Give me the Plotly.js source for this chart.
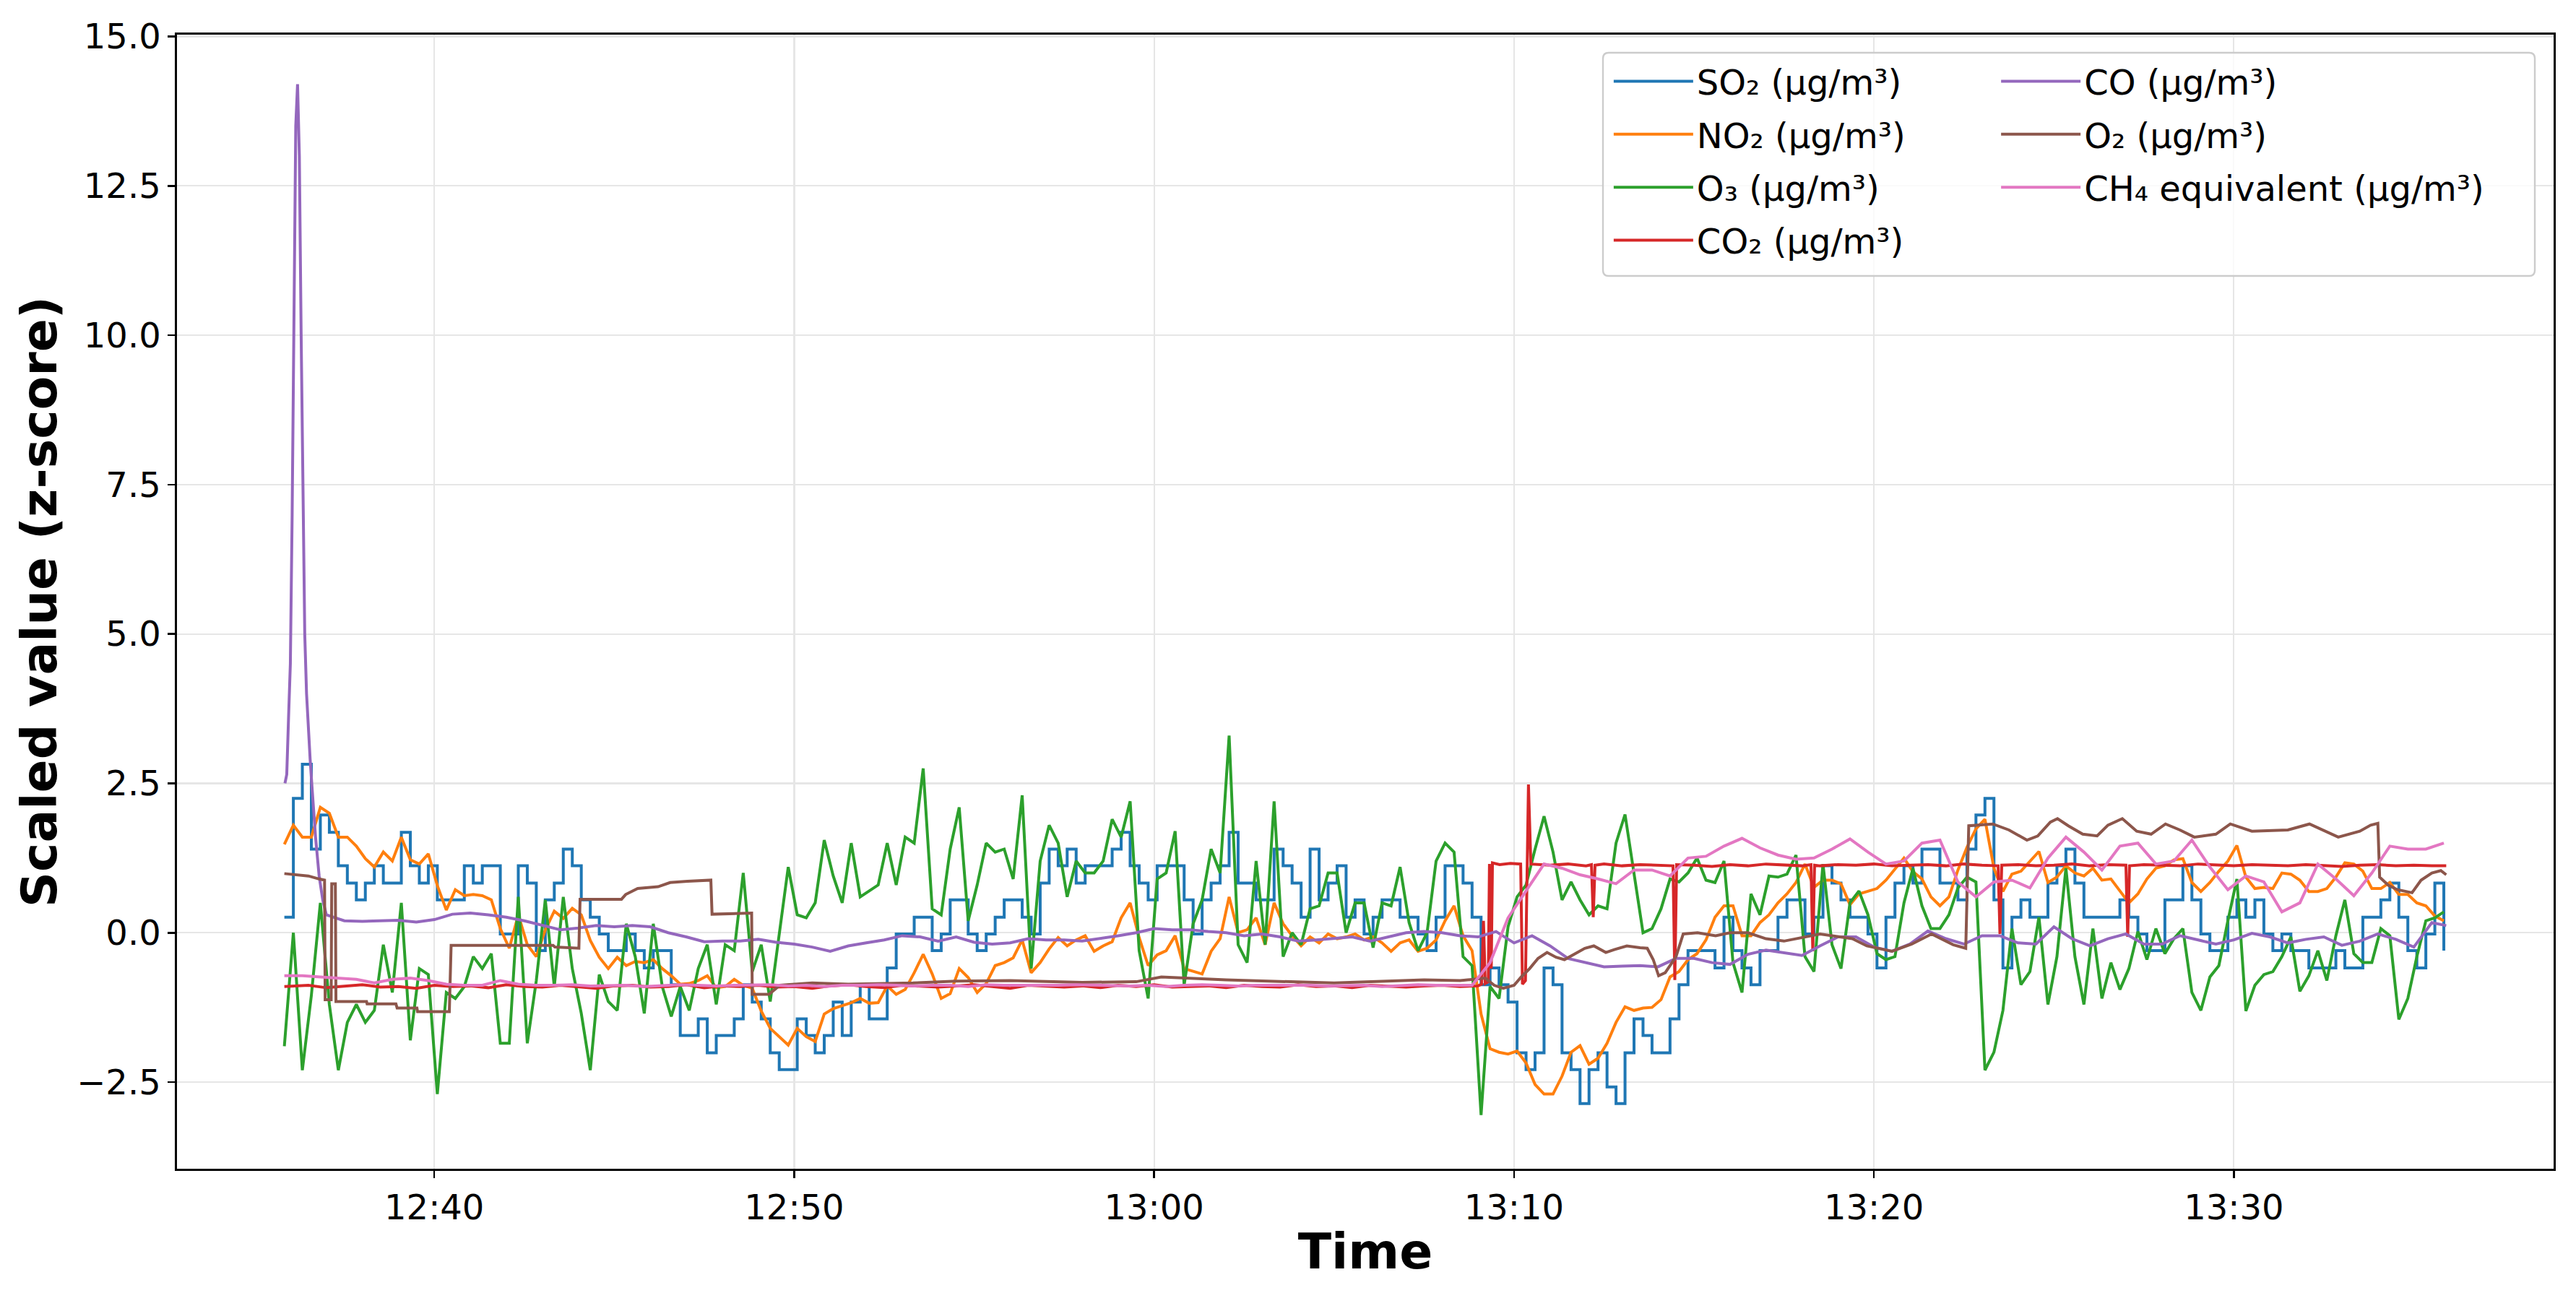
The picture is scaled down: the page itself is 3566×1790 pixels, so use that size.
<!DOCTYPE html>
<html>
<head>
<meta charset="utf-8">
<script src="https://cdn.plot.ly/plotly-3.0.1.min.js"></script>
<style>
  html, body { margin: 0; padding: 0; background: #fff; }
  #chart { width: 3566px; height: 1790px; }
</style>
</head>
<body>
<div id="chart"></div>
<script>
// z-scored sensor readings, 15 s samples starting 12:35:50
const START_SEC = -250; // seconds relative to 12:40:00

const so2 = [
  0.26, 2.25, 2.82, 1.40, 1.97, 1.68, 1.12, 0.83, 0.55, 0.83, 1.12, 0.83, 0.83, 1.68, 1.12, 0.83,
  1.12, 0.55, 0.55, 0.55, 1.12, 0.83, 1.12, 1.12, -0.02, -0.02, 1.12, 0.83, -0.30, 0.55, 0.83, 1.40,
  1.12, 0.55, 0.26, -0.02, -0.30, -0.30, -0.02, -0.30, -0.59, -0.30, -0.30, -0.87, -1.72, -1.72, -1.44, -2.01, -1.72,
  -1.72, -1.44, -0.87, -1.16, -1.44, -2.01, -2.29, -2.29, -1.44, -1.72, -2.01, -1.72, -1.16, -1.72, -1.16, -0.87,
  -1.44, -1.44, -0.59, -0.02, -0.02, 0.26, 0.26, -0.30, -0.02, 0.55, 0.55, -0.02, -0.30, -0.02, 0.26, 0.55,
  0.55, 0.26, -0.02, 0.83, 1.40, 1.12, 1.40, 0.83, 1.12, 1.12, 1.12, 1.40, 1.68, 1.12, 0.83, 0.55, 1.12, 1.12, 1.12,
  0.55, -0.02, 0.55, 0.83, 1.12, 1.68, 0.83, 0.83, 0.55, 0.55, 1.40, 1.12, 0.83, 0.26, 1.40, 0.55,
  0.83, 1.12, 0.26, 0.55, -0.02, 0.26, 0.55, 0.55, 0.26, 0.26, -0.02, -0.30, 0.26, 1.12, 1.12, 0.83,
  0.26, -0.87, -0.59, -0.87, -1.16, -2.01, -2.29, -2.01, -0.59, -0.87, -2.01, -2.29, -2.86, -2.29, -2.01, -2.58,
  -2.86, -2.01, -1.44, -1.72,
  -2.01, -2.01, -1.44, -0.87, -0.30, -0.30, -0.30, -0.59, 0.26, -0.30, -0.59, -0.87, -0.30, -0.30, 0.26, 0.55,
  0.55, -0.02, 0.26, 1.12, 0.83, 0.55, 0.26, 0.26, -0.02, -0.59, 0.26, 0.83, 1.12, 0.83, 1.40, 1.40,
  0.83, 0.83, 0.55, 1.40, 1.97, 2.25, 0.55, -0.59, 0.26, 0.55, 0.26, 0.26, 0.83, 1.12, 1.40, 0.83, 0.26, 0.26, 0.26,
  0.26, 0.55, 0.26, -0.02, -0.30, -0.30, 0.55, 0.55, 1.12, 0.55, -0.02, -0.30, -0.30, 0.26, 0.55, 0.26,
  0.55, -0.02, -0.30, -0.02, -0.30, -0.30, -0.59, -0.59, -0.59, -0.30, -0.59, -0.59, 0.26, 0.26, 0.55, 0.83,
  0.26, -0.30, -0.59, -0.02, 0.83, -0.30
];

const no2 = [
  1.48, 1.80, 1.60, 1.60, 2.10, 2.00, 1.60, 1.60, 1.45, 1.24, 1.10, 1.35, 1.20, 1.60, 1.22, 1.15,
  1.32, 0.79, 0.38, 0.72, 0.62, 0.64, 0.62, 0.55, 0.07, -0.26, 0.30, -0.20, -0.40, 0.05, 0.36, 0.24,
  0.41, 0.30, -0.13, -0.41, -0.60, -0.41, -0.55, -0.48, -0.50, -0.45, -0.60, -0.72, -0.86, -0.85, -0.80, -0.72, -0.92,
  -0.90, -0.78, -0.88, -0.93, -1.31, -1.60, -1.74, -1.88, -1.60, -1.74, -1.82, -1.36, -1.27, -1.22, -1.17, -1.10,
  -1.18, -1.17, -0.89, -1.03, -0.95, -0.67, -0.36, -0.69, -1.10, -1.02, -0.60, -0.75, -1.00, -0.85, -0.55, -0.50,
  -0.42, -0.12, -0.67, -0.50, -0.27, -0.08, -0.22, -0.12, -0.05, -0.31, -0.22, -0.15, 0.25, 0.50, -0.08, -0.55,
  -0.37, -0.30, -0.05,
  -0.60, -0.65, -0.69, -0.31, -0.10, 0.60, 0.00, 0.05, 0.25, -0.20, 0.50, 0.15, -0.05, -0.22, -0.07, -0.17,
  -0.02, -0.10, -0.07, -0.02, -0.12, -0.07, -0.17, -0.31, -0.17, -0.12, -0.31, -0.26, -0.12, 0.20, 0.45, -0.05,
  -0.30, -1.36, -1.94, -2.00, -2.03, -1.98, -2.18, -2.54, -2.70, -2.70, -2.40, -2.00, -1.89, -2.20, -2.10, -1.85,
  -1.50, -1.24, -1.30, -1.26,
  -1.25, -1.12, -0.74, -0.65, -0.45, -0.35, -0.12, 0.26, 0.45, 0.45, -0.05, -0.05, 0.17, 0.30, 0.50, 0.65,
  0.84, 1.15, 0.76, 0.88, 0.88, 0.82, 0.47, 0.65, 0.69, 0.74, 0.88, 1.07, 1.25, 1.02, 0.90, 0.60,
  0.45, 0.60, 1.05, 1.43, 1.74, 1.90, 1.08, 0.69, 0.98, 1.03, 1.20, 1.36, 0.84, 0.93, 1.12, 1.00, 0.95, 1.08, 0.88,
  0.90, 0.70, 0.50, 0.65, 0.90, 1.08, 1.12, 1.22, 1.24, 0.84, 0.69, 0.84, 1.03, 1.20, 1.46, 0.93,
  0.74, 0.76, 0.74, 1.00, 0.98, 0.88, 0.69, 0.69, 0.74, 0.93, 1.17, 1.15, 1.03, 0.74, 0.74, 0.84,
  0.64, 0.64, 0.50, 0.45, 0.28, 0.20
];

const o3 = [
  -1.90, 0.00, -2.30, -1.05, 0.50, -1.20, -2.30, -1.50, -1.20, -1.50, -1.30, -0.20, -1.00, 0.50, -1.80, -0.60,
  -0.70, -2.70, -1.00, -1.10, -0.90, -0.40, -0.60, -0.35, -1.85, -1.85, 0.60, -1.85, -0.80, 0.55, -0.90, 0.60,
  -0.60, -1.35, -2.30, -0.70, -1.15, -1.30, 0.15, -0.40, -1.35, 0.15, -0.90, -1.40, -0.90, -1.30, -0.60, -0.20, -1.20,
  -0.20, -0.30, 1.00, -0.65, -0.20, -1.15, 0.00, 1.10, 0.30, 0.25, 0.50, 1.55, 0.95, 0.50, 1.50, 0.60,
  0.70, 0.80, 1.50, 0.80, 1.60, 1.50, 2.75, 0.40, 0.30, 1.40, 2.10, 0.20, 0.80, 1.50, 1.35, 1.40,
  0.90, 2.30, -0.60, 1.20, 1.80, 1.50, 0.60, 1.20, 1.00, 1.00, 1.20, 1.90, 1.60, 2.20, -0.30, -1.10,
  0.90, 1.00, 1.70,
  -0.88, 0.15, 0.55, 1.40, 1.00, 3.30, -0.20, -0.50, 1.20, -0.20, 2.20, -0.40, 0.00, -0.20, 0.40, 0.45,
  1.00, 1.00, 0.00, 0.50, 0.50, -0.25, 0.50, 0.45, 1.10, 0.17, -0.30, 0.00, 1.20, 1.50, 1.35, -0.40,
  -0.55, -3.05, -0.90, -1.10, 0.10, 0.60, 0.80, 1.40, 1.95, 1.35, 0.55, 0.85, 0.55, 0.30, 0.45, 0.40,
  1.50, 1.98, 1.00, 0.00,
  0.07, 0.40, 0.90, 0.85, 1.00, 1.25, 0.88, 0.84, 1.20, -0.50, -1.00, 0.65, 0.30, 0.95, 0.93, 0.98,
  1.30, -0.40, -0.65, 1.15, -0.20, -0.60, 0.50, 0.70, 0.30, -0.35, -0.45, -0.40, 0.50, 1.08, 0.45, 0.07,
  0.07, 0.30, 0.75, 0.93, 0.85, -2.30, -2.00, -1.30, 0.07, -0.87, -0.65, 0.26, -1.20, -0.40, 1.08, -0.40, -1.20, 0.07, -1.10,
  -0.50, -0.95, -0.60, 0.02, -0.45, 0.07, -0.35, -0.10, 0.07, -1.00, -1.30, -0.74, -0.55, 0.20, 0.90, -1.31,
  -0.88, -0.70, -0.65, -0.40, -0.07, -0.98, -0.72, -0.30, -0.80, -0.05, 0.55, -0.35, -0.50, -0.50, 0.07, -0.05,
  -1.45, -1.10, -0.40, 0.20, 0.25, 0.35
];

// CH4 equivalent, 30 s samples starting 12:35:50
const ch4 = [
  -0.72, -0.72, -0.74, -0.76, -0.78, -0.84, -0.78, -0.76, -0.80, -0.86, -0.88, -0.88, -0.80, -0.86, -0.88, -0.88,
  -0.87, -0.89, -0.88, -0.88, -0.90, -0.88, -0.87, -0.88, -0.89, -0.88, -0.88, -0.87, -0.89, -0.88, -0.90, -0.88,
  -0.88, -0.87, -0.88, -0.89, -0.88, -0.88, -0.90, -0.87, -0.88, -0.88, -0.89, -0.88, -0.87, -0.88, -0.88, -0.89,
  -0.88, -0.90, -0.88, -0.87, -0.88, -0.89, -0.88, -0.88, -0.87, -0.88, -0.89, -0.88, -0.88, -0.90, -0.88, -0.87,
  -0.88, -0.88, -0.88, -0.50, 0.25, 0.70, 1.15, 1.08, 0.97, 0.90, 0.82, 1.05, 1.05, 0.95, 1.25, 1.28,
  1.45, 1.58, 1.42, 1.30, 1.23, 1.25, 1.40, 1.57, 1.35, 1.15, 1.20, 1.50, 1.55, 0.85, 0.60, 0.85,
  0.88, 0.75, 1.25, 1.60, 1.35, 1.05, 1.45, 1.50, 1.15, 1.20, 1.55, 1.10, 0.72, 0.95, 0.85, 0.35,
  0.50, 1.15, 0.90, 0.62, 1.00, 1.45, 1.40, 1.40, 1.50
];

// irregular readings: [minutes after 12:40, value]
const co = [
  [-4.15, 2.50], [-4.10, 2.65], [-4.05, 3.60], [-4.00, 4.50], [-3.95, 7.00], [-3.90, 10.5], [-3.85, 13.5],
  [-3.80, 14.2], [-3.75, 13.0], [-3.70, 10.0], [-3.65, 7.00], [-3.60, 5.00], [-3.55, 4.00], [-3.50, 3.40],
  [-3.45, 2.90], [-3.40, 2.45], [-3.30, 1.60], [-3.20, 0.95], [-3.10, 0.55], [-3.00, 0.30],
  [-2.5, 0.20], [-2.0, 0.19], [-1.5, 0.20], [-1.0, 0.21], [-0.5, 0.18], [0, 0.22], [0.5, 0.31], [1.0, 0.33],
  [1.5, 0.30], [2.0, 0.26], [2.5, 0.20], [3.0, 0.13], [3.5, 0.05], [4.0, 0.08], [4.5, 0.12], [5.0, 0.10],
  [5.5, 0.12], [6.0, 0.10], [6.5, 0.00], [7.0, -0.07], [7.5, -0.15], [8.0, -0.14], [8.5, -0.14], [9.0, -0.11],
  [9.5, -0.16], [10.0, -0.19], [10.5, -0.24], [11.0, -0.31], [11.5, -0.22], [12.0, -0.17], [12.5, -0.12],
  [13.0, -0.05], [13.5, -0.07], [14.0, -0.14], [14.5, -0.07], [15.0, -0.16], [15.5, -0.19], [16.0, -0.17],
  [16.5, -0.10], [17.0, -0.12], [17.5, -0.12], [18.0, -0.14], [18.5, -0.10], [19.0, -0.05], [19.5, 0.00],
  [20.0, 0.07], [20.5, 0.05], [21.0, 0.05], [21.5, 0.02], [22.0, 0.00], [22.5, -0.05], [23.0, -0.02],
  [23.5, -0.07], [24.0, -0.14], [24.5, -0.12], [25.0, -0.10], [25.5, -0.07], [26.0, -0.14], [26.5, -0.07],
  [27.0, 0.00], [27.5, 0.02], [28.0, 0.00], [28.5, -0.05], [29.0, -0.07], [29.5, 0.02], [30.0, -0.17],
  [30.5, -0.05], [31.0, -0.22], [31.5, -0.43], [32.0, -0.50], [32.5, -0.57], [33.0, -0.56], [33.5, -0.55],
  [34.0, -0.57], [34.5, -0.43], [35.0, -0.43], [35.5, -0.50], [36.0, -0.53], [36.5, -0.36], [37.0, -0.29],
  [37.5, -0.33], [38.0, -0.38], [38.5, -0.22], [39.0, -0.07], [39.5, -0.07], [40.0, -0.24], [40.5, -0.31],
  [41.0, -0.19], [41.5, 0.03], [42.0, -0.10], [42.5, -0.19], [43.0, -0.05], [43.5, -0.05], [44.0, -0.17],
  [44.5, -0.19], [45.0, 0.10], [45.5, -0.10], [46.0, -0.22], [46.5, -0.10], [47.0, -0.02], [47.5, -0.19],
  [48.0, -0.19], [48.5, -0.05], [49.0, -0.12], [49.5, -0.19], [50.0, -0.12], [50.5, -0.01], [51.0, -0.07],
  [51.5, -0.17], [52.0, -0.11], [52.5, -0.07], [53.0, -0.21], [53.5, -0.14], [54.0, -0.02], [54.5, -0.11],
  [55.0, -0.24], [55.5, 0.17], [55.9, 0.12]
];

const o2 = [
  [-4.17, 0.99], [-3.5, 0.95], [-3.2, 0.90], [-3.05, 0.88], [-3.03, -1.12], [-2.86, -1.12], [-2.85, 0.82],
  [-2.75, 0.82], [-2.74, -1.15], [-1.88, -1.15], [-1.86, -1.19], [-1.06, -1.19], [-1.04, -1.26], [-0.49, -1.26],
  [-0.47, -1.32], [0.42, -1.32], [0.46, -0.21], [3.3, -0.21], [3.35, -0.24], [4.02, -0.26], [4.05, 0.56],
  [5.2, 0.56], [5.32, 0.64], [5.65, 0.74], [6.22, 0.77], [6.55, 0.84], [7.04, 0.86], [7.68, 0.88], [7.71, 0.31],
  [8.82, 0.33], [8.84, -1.03], [9.3, -1.03], [9.6, -0.88], [10.5, -0.84], [11.5, -0.86], [13.3, -0.84],
  [14.5, -0.81], [16.0, -0.80], [18.0, -0.83], [19.5, -0.82], [20.2, -0.74], [21.0, -0.76], [22.0, -0.79],
  [25.0, -0.84], [27.5, -0.79], [28.5, -0.80], [29.2, -0.76], [29.45, -0.88], [29.7, -0.93], [30.0, -0.88],
  [30.2, -0.74], [30.43, -0.60], [30.67, -0.43], [30.92, -0.33], [31.16, -0.41], [31.4, -0.45], [31.65, -0.36],
  [31.97, -0.26], [32.22, -0.22], [32.55, -0.33], [32.8, -0.28], [33.13, -0.22], [33.5, -0.25], [33.7, -0.26],
  [33.86, -0.45], [34.02, -0.72], [34.2, -0.67], [34.5, -0.40], [34.7, -0.02], [35.1, 0.00], [35.6, -0.05],
  [36.0, 0.00], [36.5, 0.00], [37.0, -0.10], [37.5, -0.14], [38.0, -0.08], [38.5, -0.02], [39.4, -0.10],
  [39.8, -0.22], [40.5, -0.31], [41.05, -0.19], [41.6, -0.02], [42.2, -0.20], [42.55, -0.26], [42.63, 1.79],
  [43.3, 1.82], [43.75, 1.72], [44.25, 1.55], [44.55, 1.62], [44.9, 1.85], [45.1, 1.91], [45.4, 1.79],
  [45.8, 1.65], [46.2, 1.62], [46.5, 1.80], [46.9, 1.91], [47.3, 1.70], [47.7, 1.65], [48.1, 1.82],
  [48.5, 1.72], [48.9, 1.60], [49.5, 1.65], [49.9, 1.82], [50.5, 1.70], [51.5, 1.72], [52.1, 1.82],
  [52.9, 1.60], [53.5, 1.70], [53.8, 1.80], [54.0, 1.83], [54.05, 0.93], [54.3, 0.79], [54.55, 0.72],
  [54.95, 0.67], [55.2, 0.88], [55.5, 1.00], [55.75, 1.04], [55.9, 0.97]
];

const co2 = [
  [-4.17, -0.90], [-3.5, -0.88], [-3.0, -0.92], [-2.5, -0.89], [-2.0, -0.87], [-1.5, -0.91], [-1.0, -0.90],
  [-0.5, -0.93], [0, -0.88], [0.5, -0.90], [1.0, -0.89], [1.5, -0.92], [2.0, -0.87], [2.5, -0.90], [3.0, -0.91],
  [3.5, -0.88], [4.0, -0.90], [4.5, -0.93], [5.0, -0.89], [5.5, -0.88], [6.0, -0.91], [6.5, -0.90], [7.0, -0.87],
  [7.5, -0.92], [8.0, -0.89], [8.5, -0.90], [9.0, -0.88], [9.5, -0.91], [10.0, -0.90], [10.5, -0.93], [11.0, -0.89],
  [11.5, -0.87], [12.0, -0.90], [12.5, -0.92], [13.0, -0.88], [13.5, -0.90], [14.0, -0.91], [14.5, -0.89],
  [15.0, -0.87], [15.5, -0.90], [16.0, -0.93], [16.5, -0.88], [17.0, -0.90], [17.5, -0.91], [18.0, -0.89],
  [18.5, -0.92], [19.0, -0.88], [19.5, -0.90], [20.0, -0.87], [20.5, -0.91], [21.0, -0.90], [21.5, -0.89],
  [22.0, -0.92], [22.5, -0.88], [23.0, -0.90], [23.5, -0.91], [24.0, -0.87], [24.5, -0.90], [25.0, -0.89],
  [25.5, -0.92], [26.0, -0.88], [26.5, -0.90], [27.0, -0.91], [27.5, -0.89], [28.0, -0.88], [28.5, -0.90],
  [29.0, -0.89], [29.1, -0.86], [29.15, 0.20], [29.2, -0.85], [29.28, -0.82], [29.32, 1.15], [29.36, -0.60],
  [29.4, 1.17], [29.6, 1.14], [29.9, 1.16], [30.18, 1.15], [30.24, -0.86], [30.32, -0.80], [30.4, 2.48],
  [30.47, 1.15], [31.0, 1.13], [31.5, 1.15], [32.0, 1.12], [32.15, 1.14], [32.2, 0.26], [32.25, 1.13],
  [32.5, 1.15], [33.0, 1.12], [33.5, 1.14], [34.0, 1.13], [34.42, 1.12], [34.47, -0.79], [34.52, 1.14],
  [35.0, 1.13], [35.5, 1.11], [36.0, 1.14], [36.5, 1.12], [37.0, 1.15], [37.5, 1.13], [38.0, 1.12],
  [38.25, 1.14], [38.3, -0.31], [38.35, 1.13], [38.5, 1.12], [39.0, 1.14], [39.5, 1.13], [40.0, 1.15],
  [40.5, 1.12], [41.0, 1.13], [41.5, 1.14], [42.0, 1.12], [42.5, 1.15], [43.0, 1.13], [43.45, 1.12],
  [43.5, -0.02], [43.55, 1.13], [44.0, 1.14], [44.5, 1.12], [45.0, 1.13], [45.5, 1.15], [46.0, 1.12],
  [46.5, 1.14], [47.0, 1.13], [47.05, -0.07], [47.1, 1.12], [47.5, 1.14], [48.0, 1.13], [48.5, 1.12],
  [49.0, 1.15], [49.5, 1.13], [50.0, 1.12], [50.5, 1.14], [51.0, 1.13], [51.5, 1.12], [52.0, 1.14],
  [52.5, 1.13], [53.0, 1.11], [53.5, 1.13], [54.0, 1.14], [54.5, 1.12], [55.0, 1.13], [55.5, 1.12], [55.9, 1.12]
];

const BASE = Date.UTC(2024, 0, 1, 12, 40, 0);
const stamp = sec => new Date(BASE + sec * 1000).toISOString().slice(0, 19).replace('T', ' ');
const onGrid = (vals, step) => vals.map((_, i) => stamp(START_SEC + i * step));
const minutesX = pts => pts.map(p => stamp(Math.round(p[0] * 60)));
const valuesY = pts => pts.map(p => p[1]);

function series(name, x, y, color, legend, shape) {
  return {
    type: 'scatter', mode: 'lines', name, x, y,
    line: { color, width: 4, shape: shape || 'linear' },
    legend, legendgroup: name, hoverinfo: 'skip'
  };
}

const traces = [
  series('SO₂ (µg/m³)', onGrid(so2, 15), so2, '#1f77b4', 'legend', 'hv'),
  series('NO₂ (µg/m³)', onGrid(no2, 15), no2, '#ff7f0e', 'legend'),
  series('O₃ (µg/m³)', onGrid(o3, 15), o3, '#2ca02c', 'legend'),
  series('CO₂ (µg/m³)', minutesX(co2), valuesY(co2), '#d62728', 'legend'),
  series('CO (µg/m³)', minutesX(co), valuesY(co), '#9467bd', 'legend2'),
  series('O₂ (µg/m³)', minutesX(o2), valuesY(o2), '#8c564b', 'legend2'),
  series('CH₄ equivalent (µg/m³)', onGrid(ch4, 30), ch4, '#e377c2', 'legend2')
];

const axisBase = {
  ticks: 'outside', ticklen: 10, tickwidth: 2.5, tickcolor: '#000',
  showline: true, mirror: true, linecolor: '#000', linewidth: 2.7,
  showgrid: true, gridcolor: '#e6e6e6', gridwidth: 2.2, zeroline: false,
  tickfont: { size: 48, color: '#000' }, automargin: false
};

const legendBase = {
  xanchor: 'left', yanchor: 'top', orientation: 'v',
  bgcolor: 'rgba(0,0,0,0)', borderwidth: 0,
  itemwidth: 110, tracegroupgap: 8,
  font: { size: 48, color: '#000' }
};

// rounded legend frame (paper coords)
const bx0 = 0.6000, bx1 = 0.9921, by0 = 0.9841, by1 = 0.7873, rx = 0.0024, ry = 0.0051;
const framePath = `M${bx0 + rx},${by0} L${bx1 - rx},${by0} Q${bx1},${by0} ${bx1},${by0 - ry} ` +
  `L${bx1},${by1 + ry} Q${bx1},${by1} ${bx1 - rx},${by1} L${bx0 + rx},${by1} ` +
  `Q${bx0},${by1} ${bx0},${by1 + ry} L${bx0},${by0 - ry} Q${bx0},${by0} ${bx0 + rx},${by0} Z`;

const layout = {
  width: 3566, height: 1790,
  paper_bgcolor: '#fff', plot_bgcolor: '#fff',
  margin: { l: 245, r: 31, t: 48, b: 172 },
  font: { family: 'DejaVu Sans', size: 48, color: '#000' },
  showlegend: true,
  xaxis: Object.assign({}, axisBase, {
    type: 'date',
    range: ['2024-01-01 12:32:51', '2024-01-01 13:38:53'],
    tick0: '2024-01-01 12:40:00', dtick: 600000, tickformat: '%H:%M',
    title: { text: 'Time', font: { size: 68, weight: 'bold', color: '#000' }, standoff: 10 }
  }),
  yaxis: Object.assign({}, axisBase, {
    range: [-3.95, 15.03], tick0: 0, dtick: 2.5, tickformat: '.1f',
    title: { text: 'Scaled value (z-score)', font: { size: 68, weight: 'bold', color: '#000' }, standoff: 6 }
  }),
  legend: Object.assign({}, legendBase, { x: 0.6030, y: 0.9830 }),
  legend2: Object.assign({}, legendBase, { x: 0.7660, y: 0.9830 }),
  shapes: [{
    type: 'path', xref: 'paper', yref: 'paper', layer: 'above',
    path: framePath, fillcolor: 'rgba(255,255,255,0.8)',
    line: { color: '#cccccc', width: 2.4 }
  }]
};

Plotly.newPlot('chart', traces, layout, { displayModeBar: false, staticPlot: true });
</script>
</body>
</html>
